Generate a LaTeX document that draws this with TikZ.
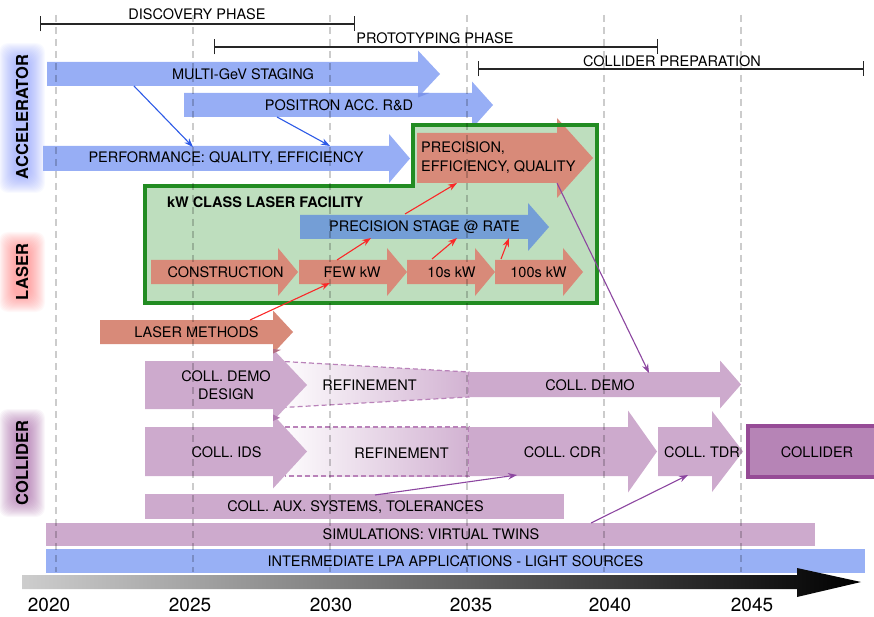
\documentclass[tikz,border=0pt]{standalone}
\usepackage{fontspec}
\setmainfont{TeX Gyre Heros}
\usetikzlibrary{arrows.meta}
\definecolor{accblue}{RGB}{151,174,245}
\definecolor{stageblue}{RGB}{116,158,214}
\definecolor{salmon}{RGB}{216,138,121}
\definecolor{greenfill}{RGB}{190,222,190}
\definecolor{greenline}{RGB}{34,140,34}
\definecolor{purplefill}{RGB}{205,170,205}
\definecolor{refinefill}{RGB}{210,178,210}
\definecolor{refineline}{RGB}{185,130,185}
\definecolor{colliderfill}{RGB}{182,132,182}
\definecolor{colliderline}{RGB}{150,75,150}
\definecolor{lpablue}{RGB}{152,176,245}
\definecolor{connblue}{RGB}{45,90,230}
\definecolor{connred}{RGB}{250,40,40}
\definecolor{connpurple}{RGB}{140,70,160}
\definecolor{tlgray}{RGB}{205,205,205}
\definecolor{glowblue}{RGB}{110,130,250}
\definecolor{glowred}{RGB}{255,90,90}
\definecolor{glowpurple}{RGB}{140,60,140}
\definecolor{overlapsalpur}{RGB}{180,110,130}
\definecolor{overlappur}{RGB}{175,120,175}
\definecolor{overlapblue}{RGB}{125,150,235}
\newcommand{\shapearrow}[7]{\fill[#1] (#2,#5-#6) -- (#3,#5-#6) -- (#3,#5-#7) -- (#4,#5) -- (#3,#5+#7) -- (#3,#5+#6) -- (#2,#5+#6) -- cycle;}
\newcommand{\glowbox}[5]{\foreach \k in {0,...,15}{\fill[#1,opacity=0.045,rounded corners=9pt] ({#2-#4-\k*1.0},{#3-#5-\k*1.0}) rectangle ({#2+#4+\k*1.0},{#3+#5+\k*1.0});}}
\newcommand{\tfont}{\fontsize{14.5}{17}\selectfont}
\begin{document}
\begin{tikzpicture}[x=1pt,y=-1pt,
  lbl/.style={font=\tfont, inner sep=0pt, text=black},
  boldlbl/.style={font=\tfont\bfseries, inner sep=0pt, text=black},
  sidelbl/.style={font=\fontsize{16.5}{19}\selectfont\bfseries, inner sep=0pt, rotate=90, text=black},
  yearlbl/.style={font=\fontsize{19}{22}\selectfont, inner sep=0pt, text=black},
  phase/.style={{Bar[width=15pt]}-{Bar[width=15pt]}, line width=1.3pt, black!85},
  conn/.style={-{Stealth[length=9pt,width=6.5pt]}, line width=1.1pt},
  grid/.style={black, opacity=0.2, line width=1.5pt, dash pattern=on 7pt off 5pt},
  refine/.style={draw=refineline, line width=1.2pt, dash pattern=on 5pt off 3pt}]
\useasboundingbox (0,0) rectangle (874,617);

% side label glows and labels
\glowbox{glowblue}{22}{118}{8}{60}
\glowbox{glowred}{22}{272}{8}{25}
\glowbox{glowpurple}{22}{463}{8}{39}
\node[sidelbl] (sacc) at (22,117) {ACCELERATOR};
\node[sidelbl] (slas) at (22,272) {LASER};
\node[sidelbl] (scol) at (22,463) {COLLIDER};

% phases
\coordinate (d1) at (40,24); \coordinate (d2) at (355,24);
\coordinate (p1) at (214,47); \coordinate (p2) at (658,47);
\coordinate (cp1) at (478,69); \coordinate (cp2) at (864,69);
\draw[phase] (d1) -- (d2);
\draw[phase] (p1) -- (p2);
\draw[phase] (cp1) -- (cp2);

% accelerator arrows
\shapearrow{accblue}{184}{472}{493}{105}{12}{23.5}
\shapearrow{accblue}{47}{418}{440}{74}{12}{23.5}
% overlap of MULTI-GeV head with positron body
\fill[overlapblue] (418,93) -- (429.4,93) -- (418,97.5) -- cycle;
\shapearrow{accblue}{43}{389}{410}{158.5}{12.5}{24.5}

% green laser facility box
\fill[greenfill] (145,186) -- (413,186) -- (413,125) -- (597,125) -- (597,303) -- (145,303) -- cycle;
\shapearrow{salmon}{417}{557}{593}{158}{25}{40}
\draw[greenline, line width=3.5pt] (145,186) -- (413,186) -- (413,125) -- (597,125) -- (597,303) -- (145,303) -- cycle;

\shapearrow{stageblue}{300}{528}{549}{227}{12}{24}
\shapearrow{salmon}{151}{278}{298}{272}{12}{24}
\shapearrow{salmon}{299}{387}{407}{272}{12}{24}
\shapearrow{salmon}{407}{475}{495}{272}{12}{24}
\shapearrow{salmon}{495}{563}{583}{272}{12}{24}
\shapearrow{salmon}{100}{273}{293}{332}{12}{21.5}

% refinement shapes
\shade[left color=white, right color=refinefill] (275,361) -- (469,372) -- (469,397) -- (275,408) -- cycle;
\draw[refine] (285,361.6) -- (469,372) -- (469,397) -- (285,407.4);
\shade[left color=white, right color=refinefill] (275,427) rectangle (469,476);
\draw[refine] (285,427) -- (469,427) -- (469,476) -- (285,476);

% collider arrows
\shapearrow{purplefill}{469}{720}{741}{384.5}{12.5}{24}
\shapearrow{purplefill}{145}{273}{307}{385}{24}{36}
\shapearrow{purplefill}{145}{273}{307}{451.5}{24.5}{37}
% overlaps of heads
\fill[overlapsalpur] (273,349) -- (273,353.5) -- (281,349.8) -- cycle;
\fill[overlappur] (273,414.5) -- (273,421) -- (280,417.8) -- cycle;
\shapearrow{purplefill}{469}{628}{657}{451.5}{24.5}{41}
\shapearrow{purplefill}{658}{712}{743}{451.5}{24.5}{40.5}
\fill[colliderfill] (748,426) rectangle (880,477);
\draw[colliderline, line width=4pt] (880,426) -- (748,426) -- (748,477) -- (880,477);

% bottom bars
\fill[purplefill] (145,494) rectangle (564,519);
\fill[purplefill] (46,523) rectangle (815,546);
\fill[lpablue] (46,549) rectangle (865,573);

% timeline
\shade[left color=tlgray, right color=black] (22,575) -- (797,575) -- (797,568) -- (861,582) -- (797,597) -- (797,589) -- (22,589) -- cycle;

% grid lines
\foreach \gx in {56,193,330,467,604,741} \draw[grid] (\gx,15) -- (\gx,572);

% years
\node[yearlbl] (y2020) at (49,605) {2020};
\node[yearlbl] (y2025) at (190,605) {2025};
\node[yearlbl] (y2030) at (331,605) {2030};
\node[yearlbl] (y2035) at (471,605) {2035};
\node[yearlbl] (y2040) at (610,605) {2040};
\node[yearlbl] (y2045) at (752,605) {2045};

% phase labels
\node[lbl] (tdisc) at (197,14) {DISCOVERY PHASE};
\node[lbl] (tproto) at (435,38) {PROTOTYPING PHASE};
\node[lbl] (tcolprep) at (672,61) {COLLIDER PREPARATION};

% texts
\node[lbl] (tmulti) at (243,74) {MULTI-GeV STAGING};
\node[lbl] (tpos) at (339,105) {POSITRON ACC. R\&D};
\node[lbl] (tperf) at (226,158.5) {PERFORMANCE: QUALITY, EFFICIENCY};
\node[lbl, anchor=west, align=left, font=\fontsize{14.5}{19}\selectfont] (tprec) at (421,157.5) {PRECISION,\\EFFICIENCY, QUALITY};
\node[boldlbl, anchor=west] (tkw) at (167,202) {kW CLASS LASER FACILITY};
\node[lbl] (tstage) at (424.5,227) {PRECISION STAGE @ RATE};
\node[lbl] (tcons) at (225.5,272) {CONSTRUCTION};
\node[lbl] (tfew) at (352,272) {FEW kW};
\node[lbl] (t10) at (451.5,272) {10s kW};
\node[lbl] (t100) at (538.5,272) {100s kW};
\node[lbl] (tlm) at (196.5,332) {LASER METHODS};
\node[lbl, align=center, font=\fontsize{14.5}{18}\selectfont] (tcdd) at (226,385) {COLL. DEMO\\DESIGN};
\node[lbl] (tref1) at (369.5,385) {REFINEMENT};
\node[lbl] (tcd) at (590,385) {COLL. DEMO};
\node[lbl] (tids) at (226.5,452) {COLL. IDS};
\node[lbl] (tref2) at (401.5,453) {REFINEMENT};
\node[lbl] (tcdr) at (562.5,452) {COLL. CDR};
\node[lbl] (ttdr) at (702,452) {COLL. TDR};
\node[lbl] (tcol) at (817,452) {COLLIDER};
\node[lbl] (taux) at (355.5,507) {COLL. AUX. SYSTEMS, TOLERANCES};
\node[lbl] (tsim) at (431,534.5) {SIMULATIONS: VIRTUAL TWINS};
\node[lbl] (tlpa) at (455.5,561) {INTERMEDIATE LPA APPLICATIONS - LIGHT SOURCES};

% connector end points
\coordinate (c1s) at (134,86);  \coordinate (c1e) at (193,147);
\coordinate (c2s) at (277,117); \coordinate (c2e) at (330,146);
\coordinate (r1s) at (250,320); \coordinate (r1e) at (330,283);
\coordinate (r2s) at (337,260); \coordinate (r2e) at (371,238);
\coordinate (r3s) at (405,214); \coordinate (r3e) at (457,183);
\coordinate (r4s) at (432,259); \coordinate (r4e) at (457,238);
\coordinate (r5s) at (501,259); \coordinate (r5e) at (509,238);
\coordinate (q1s) at (557,183); \coordinate (q1e) at (649,373);
\coordinate (q2s) at (375,495); \coordinate (q2e) at (517,475);
\coordinate (q3s) at (591,523); \coordinate (q3e) at (688,475);

\draw[conn, connblue] (c1s) -- (c1e);
\draw[conn, connblue] (c2s) -- (c2e);
\draw[conn, connred] (r1s) -- (r1e);
\draw[conn, connred] (r2s) -- (r2e);
\draw[conn, connred] (r3s) -- (r3e);
\draw[conn, connred] (r4s) -- (r4e);
\draw[conn, connred] (r5s) -- (r5e);
\draw[conn, connpurple] (q1s) -- (q1e);
\draw[conn, connpurple] (q2s) -- (q2e);
\draw[conn, connpurple] (q3s) -- (q3e);
\end{tikzpicture}
\end{document}
